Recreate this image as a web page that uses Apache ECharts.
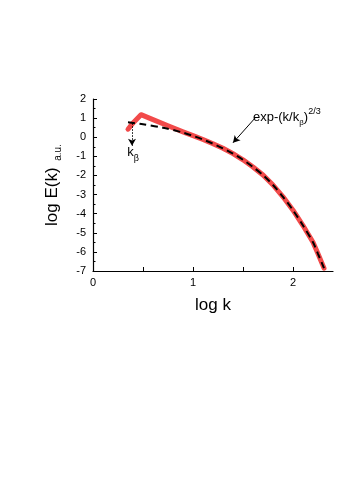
<!DOCTYPE html>
<html><head><meta charset="utf-8">
<script src="https://cdn.jsdelivr.net/npm/echarts@6/dist/echarts.min.js"></script>
<style>html,body{margin:0;padding:0;background:#fff}#c{width:349px;height:500px}</style>
</head><body><div id="c"></div>
<script>
// Data (log k, log E)
const redX = [0.35, 0.40, 0.48, 0.60, 0.75, 0.90, 1.00, 1.10, 1.20, 1.30, 1.40, 1.50, 1.60, 1.70, 1.80, 1.90, 2.00, 2.10, 2.20, 2.25, 2.31];
const redY = [0.42, 0.75, 1.18, 0.92, 0.60, 0.28, 0.08, -0.12, -0.34, -0.58, -0.86, -1.18, -1.56, -1.98, -2.50, -3.12, -3.82, -4.62, -5.50, -6.10, -6.85];
const fitX = [0.35, 0.50, 0.70, 0.90, 1.00, 1.10, 1.20, 1.30, 1.40, 1.50, 1.60, 1.70, 1.80, 1.90, 2.00, 2.10, 2.20, 2.25, 2.31];
const fitY = [0.78, 0.68, 0.50, 0.24, 0.07, -0.12, -0.34, -0.58, -0.86, -1.18, -1.56, -1.98, -2.50, -3.12, -3.82, -4.62, -5.50, -6.10, -6.85];
const xTickLabels = [0, 1, 2];
const xTicks = [0, 0.5, 1, 1.5, 2];
// annotation anchors (data coords)
const kbArrow = [[0.39, 0.73], [0.39, -0.45]];
const kbLabel = [0.40, -0.90];
const fitArrow = [[1.62, 1.0], [1.40, -0.29]];
const fitLabel = [1.60, 1.05];

const zip = (a, b) => a.map((v, i) => [v, b[i]]);
const font = 'Liberation Sans, Arial, sans-serif';
const chart = echarts.init(document.getElementById('c'), null, {renderer: 'canvas'});
chart.setOption({
  animation: false,
  backgroundColor: '#fff',
  grid: {left: 93, right: 16, top: 99, bottom: 229, containLabel: false},
  xAxis: {
    type: 'value', min: 0, max: 2.4,
    name: 'log k', nameLocation: 'middle', nameGap: 26,
    nameTextStyle: {fontSize: 17, color: '#000', fontFamily: font},
    axisLine: {onZero: false, lineStyle: {color: '#000', width: 1.2}},
    axisTick: {inside: true, length: 4, customValues: xTicks, lineStyle: {color: '#000'}},
    axisLabel: {customValues: xTickLabels, fontSize: 11, color: '#000', fontFamily: font, margin: 6},
    splitLine: {show: false}
  },
  yAxis: {
    type: 'value', min: -7, max: 2, interval: 1,
    name: '{a|log E(k)}  {b|a.u.}', nameLocation: 'middle', nameGap: 30,
    nameTextStyle: {
      color: '#000', fontFamily: font,
      rich: {
        a: {fontSize: 17, lineHeight: 22, fontFamily: font, color: '#000', verticalAlign: 'middle'},
        b: {fontSize: 10, lineHeight: 22, fontFamily: font, color: '#000', verticalAlign: 'bottom'}
      }
    },
    axisLine: {show: true, onZero: false, lineStyle: {color: '#000', width: 1.2}},
    axisTick: {show: true, inside: true, length: 4, lineStyle: {color: '#000'}},
    minorTick: {show: true, splitNumber: 2, length: 2.5, lineStyle: {color: '#000'}},
    axisLabel: {fontSize: 11, color: '#000', fontFamily: font, margin: 7},
    splitLine: {show: false}
  },
  series: [
    {
      type: 'line', data: zip(redX, redY), symbol: 'none', z: 2,
      lineStyle: {color: '#f24a4a', width: 5, cap: 'round', join: 'round'}
    },
    {
      type: 'line', data: zip(fitX, fitY), symbol: 'none', smooth: 0.3, z: 3,
      lineStyle: {color: '#000', width: 2, type: [7, 4.5]},
      markLine: {
        silent: true, symbol: ['none', 'arrow'], symbolSize: [6, 7],
        label: {show: false},
        data: [
          [{coord: kbArrow[0], lineStyle: {type: [1.5, 1.5], width: 1, color: '#000'}}, {coord: kbArrow[1]}],
          [{coord: fitArrow[0], lineStyle: {type: 'solid', width: 1, color: '#000'}}, {coord: fitArrow[1]}]
        ]
      },
      markPoint: {
        silent: true, symbol: 'circle', symbolSize: 0,
        data: [
          {coord: kbLabel, label: {show: true, position: 'inside', formatter: '{k|k}{s|β}',
            rich: {k: {fontSize: 13, fontFamily: font, color: '#000', lineHeight: 18, verticalAlign: 'top'},
                   s: {fontSize: 9, fontFamily: font, color: '#000', lineHeight: 18, verticalAlign: 'bottom'}}}},
          {coord: fitLabel, label: {show: true, position: 'right', distance: 0,
            formatter: '{a|exp-(k/k}{s|β}{a|)}{p|2/3}',
            rich: {a: {fontSize: 13, fontFamily: font, color: '#000', lineHeight: 20, verticalAlign: 'middle'},
                   s: {fontSize: 8, fontFamily: font, color: '#000', lineHeight: 20, verticalAlign: 'bottom'},
                   p: {fontSize: 9, fontFamily: font, color: '#000', lineHeight: 20, verticalAlign: 'top'}}}}
        ]
      }
    }
  ]
});
</script></body></html>
